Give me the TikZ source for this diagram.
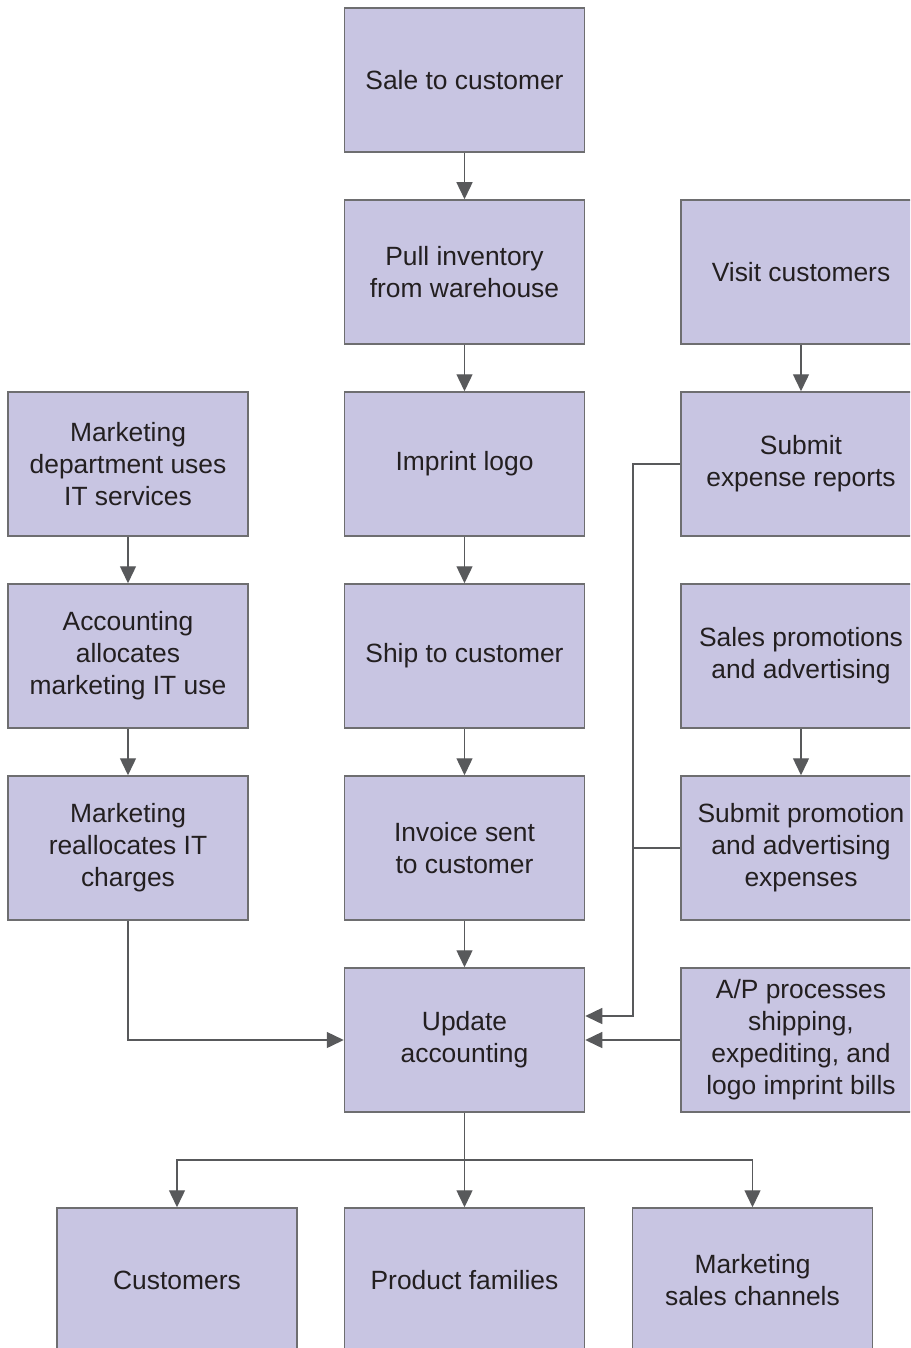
\documentclass[tikz,border=0pt]{standalone}
\usepackage{fontspec}
\setmainfont{Liberation Sans}
\usetikzlibrary{arrows.meta}
\definecolor{boxfill}{HTML}{C8C5E2}
\definecolor{boxline}{HTML}{6E6E70}
\definecolor{txt}{HTML}{231F20}
\definecolor{conn}{HTML}{58595B}
\tikzset{
  box/.style={draw=boxline, fill=boxfill, line width=0.75pt, rectangle,
    minimum width=120pt, minimum height=72pt, inner sep=0pt, align=center,
    text=txt, font=\fontsize{13.2}{16}\selectfont},
  conline/.style={draw=conn, line width=0.7pt},
  arr/.style={conline, -{Triangle[length=8.5pt,width=8pt]}}
}
\begin{document}
\begin{tikzpicture}[x=0.5pt,y=-0.5pt]
\useasboundingbox (0,0) rectangle (910,1348);
\clip (0,0) rectangle (910,1348);
% center column
\node[box] (sale) at (464.5,80) {Sale to customer};
\node[box] (pull) at (464.5,272) {Pull inventory\\from warehouse};
\node[box] (logo) at (464.5,464) {Imprint logo};
\node[box] (ship) at (464.5,656) {Ship to customer};
\node[box] (inv) at (464.5,848) {Invoice sent\\to customer};
\node[box] (upd) at (464.5,1040) {Update\\accounting};
% left column
\node[box] (mdu) at (128,464) {Marketing\\department uses\\IT services};
\node[box] (acc) at (128,656) {Accounting\\allocates\\marketing IT use};
\node[box] (mre) at (128,848) {Marketing\\reallocates IT\\charges};
% right column
\node[box] (vis) at (801,272) {Visit customers};
\node[box] (exp) at (801,464) {Submit\\expense reports};
\node[box] (spa) at (801,656) {Sales promotions\\and advertising};
\node[box] (prom) at (801,848) {Submit promotion\\and advertising\\expenses};
\node[box] (ap) at (801,1040) {A/P processes\\shipping,\\expediting, and\\logo imprint bills};
% bottom row
\node[box] (cust) at (177,1280) {Customers};
\node[box] (prod) at (464.5,1280) {Product families};
\node[box] (chan) at (752.5,1280) {Marketing\\sales channels};
% connectors
\draw[arr] (sale) -- (pull);
\draw[arr] (pull) -- (logo);
\draw[arr] (logo) -- (ship);
\draw[arr] (ship) -- (inv);
\draw[arr] (inv) -- (upd);
\draw[arr] (mdu) -- (acc);
\draw[arr] (acc) -- (mre);
\draw[arr] (vis) -- (exp);
\draw[arr] (spa) -- (prom);
\draw[arr] (mre.south) |- (upd.west);
\coordinate (jt) at (633,464);
\coordinate (jb) at (633,1016);
\draw[arr] (exp.west) -- (jt) -- (jb) -- (upd.east |- jb);
\draw[conline] (prom.west) -- (jt |- prom.west);
\draw[arr] (ap.west) -- (upd.east |- ap.west);
\coordinate (br) at (464.5,1160);
\draw[conline] (upd.south) -- (br);
\draw[arr] (br) -| (cust.north);
\draw[arr] (br) -| (chan.north);
\draw[arr] (br) -- (prod.north);
\end{tikzpicture}
\end{document}
